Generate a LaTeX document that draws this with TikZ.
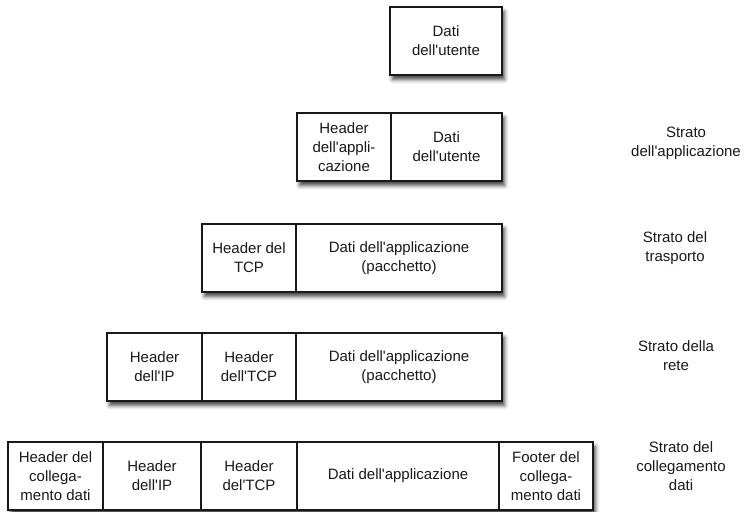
\documentclass[tikz,border=0pt]{standalone}
\usepackage{fontspec}
\setmainfont{Liberation Sans}
\usetikzlibrary{shadows.blur}
% straight apostrophe
\newcommand{\ap}{\textquotesingle}
\begin{document}
\begin{tikzpicture}[x=1pt,y=-1pt,
  txt/.style={font=\fontsize{15}{19}\selectfont, align=center, text=black!90, inner sep=0pt},
  rowbox/.style={draw=black!90, line width=1.1pt, fill=white, minimum height=68pt, inner sep=0pt,
    blur shadow={shadow xshift=2.5pt, shadow yshift=-4.5pt, shadow blur radius=4pt, shadow opacity=75}},
  cell/.style={txt, draw=black!90, line width=1.1pt, minimum height=68pt}]
\useasboundingbox (0,0) rectangle (746,511);

% row 1: user data
\node[rowbox, minimum width=112pt] (r1) at (446,41) {};
\node[cell, minimum width=112pt] (r1a) at (446,41) {Dati\\dell\ap utente};

% row 2: application layer
\node[rowbox, minimum width=205pt] (r2) at (399.5,147) {};
\node[cell, minimum width=94pt] (r2a) at (344,147) {Header\\dell\ap appli-\\cazione};
\node[cell, minimum width=111pt] (r2b) at (446.5,147) {Dati\\dell\ap utente};

% row 3: transport layer
\node[rowbox, minimum width=300pt] (r3) at (352,258) {};
\node[cell, minimum width=94pt] (r3a) at (249,258) {Header del\\TCP};
\node[cell, minimum width=206pt] (r3b) at (399,258) {Dati dell\ap applicazione\\(pacchetto)};

% row 4: network layer
\node[rowbox, minimum width=395pt] (r4) at (304.5,367) {};
\node[cell, minimum width=95pt] (r4a) at (154.5,367) {Header\\dell\ap IP};
\node[cell, minimum width=94pt] (r4b) at (249,367) {Header\\dell\ap TCP};
\node[cell, minimum width=206pt] (r4c) at (399,367) {Dati dell\ap applicazione\\(pacchetto)};

% row 5: data link layer
\node[rowbox, minimum width=585pt] (r5) at (300.5,476) {};
\node[cell, minimum width=95pt] (r5a) at (55.5,476) {Header del\\collega-\\mento dati};
\node[cell, minimum width=98pt] (r5b) at (152,476) {Header\\dell\ap IP};
\node[cell, minimum width=96pt] (r5c) at (249,476) {Header\\del\ap TCP};
\node[cell, minimum width=202pt] (r5d) at (398,476) {Dati dell\ap applicazione};
\node[cell, minimum width=94pt] (r5e) at (546,476) {Footer del\\collega-\\mento dati};

% layer labels
\node[txt] (l2) at (686,143) {Strato\\dell\ap applicazione};
\node[txt] (l3) at (675,248) {Strato del\\trasporto};
\node[txt] (l4) at (676,356) {Strato della\\rete};
\node[txt] (l5) at (681,466) {Strato del\\collegamento\\dati};
\end{tikzpicture}
\end{document}
